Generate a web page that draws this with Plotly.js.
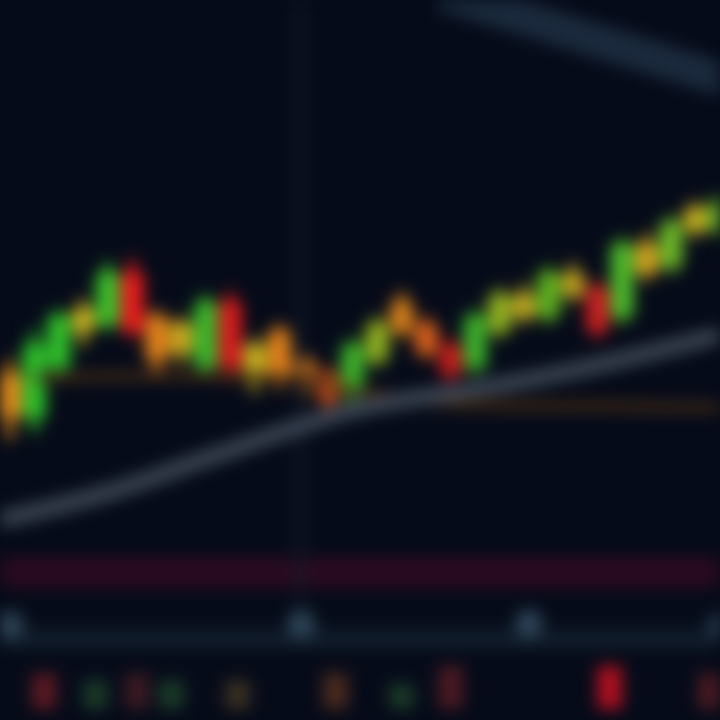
<!DOCTYPE html>
<html>
<head>
<meta charset="utf-8">
<script src="https://cdn.plot.ly/plotly-3.0.1.min.js"></script>
<style>
  html, body { margin: 0; padding: 0; background: #060b19; overflow: hidden; }
  #chart { width: 720px; height: 720px; filter: blur(8px); }
</style>
</head>
<body>
<div id="chart"></div>
<script>
// ---- data ----
const candleX = [0,1,2,3,4,5,6,7,8,9,10,11,12,13,14,15,16,17,18,19,20,21,22,23,24,25,26,27,28,29];
const openP  = [48,42,49,54,55,62,56,51,49,58,47,54,50,48,45,50,58,55,52,49,54,59,56,62,60,56,66,63,68,68];
const highP  = [50,54,57,58.5,63.5,64,57,56,59,59.5,53,55,51,49,53,56,59.5,56,53,57,60,60.5,63,63.5,61,67,67.5,70,72,73];
const lowP   = [39,40,47,52,54,53,48,49.5,48,47,45.5,46,45,43,44,49,53,50,47,48,53,55,55,58,53,55,61,62,67,67];
const closeP = [42,52,56,57,62,54,50,55,58,49,52,48,47,44.5,52,55,54,51,48,56,59,56,62,59,54,66,62,69,71,72];
const candleColor = ['#e08a1a','#2fc02a','#2fc02a','#c8b020','#3cc22a','#e81c1c','#e0801a','#c8a820','#3cb82a','#d81c1c',
                     '#c0b020','#e0801a','#d87a1a','#d0501a','#3cb02a','#90b020','#d8801a','#d8601a','#c01c1c','#3cb02a',
                     '#90b020','#c0a820','#5cb020','#c0a020','#c82020','#4cb82a','#d0a020','#6cb828','#c8b020','#6cc02a'];

const maX = [-0.4, 4, 8, 12, 14, 16, 20, 24, 29];
const maY = [27.8, 31.6, 36.3, 41.0, 43.1, 44.4, 46.5, 49.3, 53.5];

const ma2X = [1, 6, 12, 14, 18, 24, 29];
const ma2Y = [47.5, 47.8, 47.3, 45.8, 44.0, 43.6, 43.4];

const streakX = [17.6, 29.6];
const streakY = [101, 88.5];

const vLineX = [11.85, 11.85];
const vLineY = [11, 100];

const bandX = [-0.4, 29.4];
const bandY = [20.5, 20.5];

const floorX = [-0.4, 29.4];
const floorY = [11.3, 11.3];

const glowX = [0, 11.9, 21.2, 29.1];
const glowY = [13.2, 13.3, 13.4, 13.2];

const volX = [1.4, 3.5, 5.2, 6.6, 9.3, 13.3, 16, 18, 24.5, 28.6];
const volV = [5, 4, 5, 4, 4, 5, 3.5, 6, 6, 5];
const volColor = ['#5a1a22','#1a3a28','#3a1a22','#1a3a28','#3a3022','#4a2a1e','#1a3a28','#4a1a22','#b01020','#4a1a22'];

// ---- derived for plotting ----
const bodyBase = openP.map((o,i) => Math.min(o, closeP[i]));
const bodyLen  = openP.map((o,i) => Math.max(Math.abs(closeP[i]-o), 1.2));
const wickLen  = highP.map((h,i) => h - lowP[i]);

const traces = [
  { type:'scatter', mode:'lines', x: bandX, y: bandY, line:{color:'#2a0a20', width:30}, hoverinfo:'skip' },
  { type:'scatter', mode:'lines', x: floorX, y: floorY, line:{color:'#13202e', width:16}, hoverinfo:'skip' },
  { type:'scatter', mode:'lines', x: vLineX, y: vLineY, line:{color:'#121a28', width:6}, hoverinfo:'skip' },
  { type:'scatter', mode:'lines', x: streakX, y: streakY, line:{color:'#1a2a3c', width:34}, hoverinfo:'skip' },
  { type:'scatter', mode:'markers', x: glowX, y: glowY, marker:{color:'#2c4456', size:28, line:{width:0}}, hoverinfo:'skip' },
  { type:'scatter', mode:'lines', x: ma2X, y: ma2Y, line:{color:'#4a2e14', width:8, shape:'spline'}, hoverinfo:'skip' },
  { type:'scatter', mode:'lines', x: maX, y: maY, line:{color:'#3c4654', width:16, shape:'spline'}, hoverinfo:'skip' },
  { type:'bar', x: candleX, y: wickLen, base: lowP, width: 0.3, marker:{color: candleColor, line:{width:0}}, hoverinfo:'skip' },
  { type:'bar', x: candleX, y: bodyLen, base: bodyBase, width: 0.95, marker:{color: candleColor, line:{width:0}}, hoverinfo:'skip' },
  { type:'bar', x: volX, y: volV, base: 1.5, width: 1.0, marker:{color: volColor, line:{width:0}}, hoverinfo:'skip' }
];

const layout = {
  width: 720, height: 720,
  margin: {l:0, r:0, t:0, b:0},
  paper_bgcolor: '#060b19',
  plot_bgcolor: '#060b19',
  showlegend: false,
  barmode: 'overlay',
  xaxis: { range: [-0.4, 29.0], visible: false, fixedrange: true },
  yaxis: { range: [0, 100], visible: false, fixedrange: true }
};

Plotly.newPlot('chart', traces, layout, {displayModeBar:false, staticPlot:true});
</script>
</body>
</html>
